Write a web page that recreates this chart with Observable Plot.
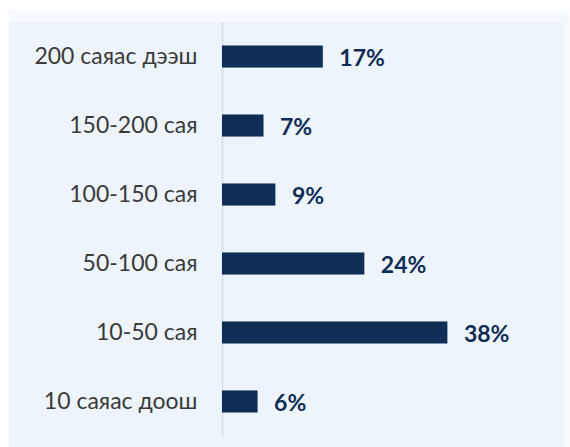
<!DOCTYPE html>
<html>
<head>
<meta charset="utf-8">
<script src="https://cdn.jsdelivr.net/npm/d3@7"></script>
<script src="https://cdn.jsdelivr.net/npm/@observablehq/plot@0.6"></script>
<style>
  html, body { margin: 0; padding: 0; background: #ffffff; }
  #wrap { position: relative; width: 570px; height: 447px; overflow: hidden; }
  #outer { position: absolute; left: 9px; top: 10px; width: 560px; height: 437px; background: #f6f9fe; }
  #inner { position: absolute; left: 9px; top: 22px; width: 555px; height: 425px; background: #eef4fc; }
  #chart { position: absolute; left: 0; top: 0; }
</style>
</head>
<body>
<div id="wrap">
  <div id="outer"></div>
  <div id="inner"></div>
  <div id="chart"></div>
</div>
<script>
const categories = ["200 саяас дээш", "150-200 сая", "100-150 сая", "50-100 сая", "10-50 сая", "10 саяас доош"];
const values = [17, 7, 9, 24, 38, 6];
const valueLabels = ["17%", "7%", "9%", "24%", "38%", "6%"];

const data = categories.map((c, i) => ({category: c, value: values[i], label: valueLabels[i]}));

const chart = Plot.plot({
  width: 570,
  height: 447,
  marginLeft: 222,
  marginRight: 4,
  marginTop: 11,
  marginBottom: 0,
  style: {background: "transparent", fontFamily: "Lato, 'Open Sans', sans-serif"},
  x: {domain: [0, 58], axis: null},
  y: {domain: categories, paddingInner: 0.68, paddingOuter: 0.5, round: false, label: null},
  marks: [
    Plot.ruleX([0], {stroke: "#dbe1e9", strokeWidth: 2, insetTop: 11, insetBottom: 10}),
    Plot.barX(data, {x: "value", y: "category", fill: "#0f2d55"}),
    Plot.axisY({tickSize: 0, tickPadding: 25, fontSize: 23, fill: "#3a3a3a", label: null}),
    Plot.text(data, {x: "value", y: "category", text: "label", dx: 16, dy: 2, textAnchor: "start",
      fontSize: 23, fontWeight: "bold", fill: "#0f2d55"})
  ]
});
document.getElementById("chart").appendChild(chart);
</script>
</body>
</html>
